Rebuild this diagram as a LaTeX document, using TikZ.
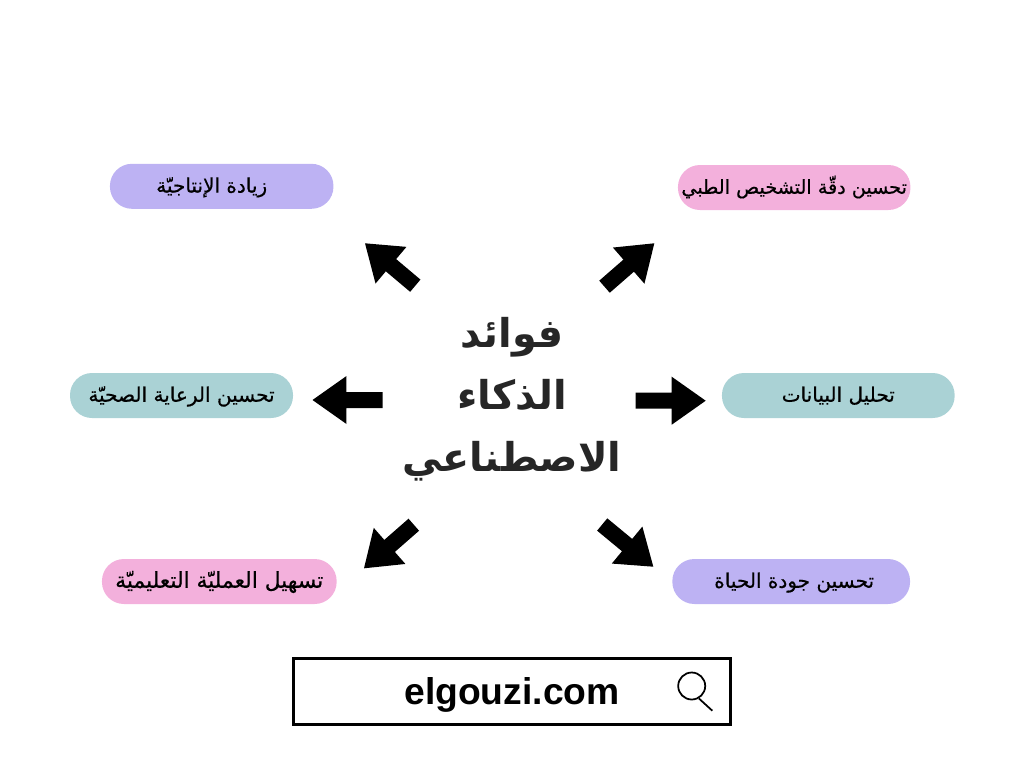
\documentclass[tikz,border=0pt]{standalone}
\usepackage{fontspec}
\usetikzlibrary{calc}
\TeXXeTstate=1
\setmainfont{Liberation Sans}
\newfontfamily\arabicfont[Script=Arabic]{DejaVu Sans}
\newfontfamily\pillfont[Script=Arabic,FakeBold=0.5]{DejaVu Sans}
\definecolor{pillpurple}{RGB}{189,178,243}
\definecolor{pillpink}{RGB}{243,176,220}
\definecolor{pillteal}{RGB}{170,210,213}
\def\artxt#1{\beginR #1\endR}
\def\pilltxt#1{\raisebox{-0.125cm}[0pt][0pt]{\artxt{#1}}}
\def\blockarrow(#1)(#2){\coordinate (ahead) at ($(#2)!0.68cm!(#1)$);
	\fill[black] ($(#1)!0.16cm!90:(#2)$) -- ($(ahead)!0.16cm!-90:(#1)$) -- ($(ahead)!0.48cm!-90:(#1)$) -- (#2) -- ($(ahead)!0.48cm!90:(#1)$) -- ($(ahead)!0.16cm!90:(#1)$) -- ($(#1)!0.16cm!-90:(#2)$) -- cycle;}
\tikzset{
	pill/.style={rounded corners=0.44cm, minimum height=0.9cm, minimum width=#1*0.02cm, inner sep=0pt, text=black, font=\pillfont\fontsize{11.4}{14}\selectfont},
	pill/.default=223,
}
\begin{document}
\begin{tikzpicture}[x=0.02cm,y=-0.02cm]
			%%%%% START %%%%%
			\useasboundingbox (0, 0) rectangle (1024, 768);
			
			\node[pill=223.5, fill=pillpurple] (productivity) at (221.7, 186.3) {\pilltxt{زيادة الإنتاجيّة}\hspace*{0.4cm}};
			\node[pill=232.5, fill=pillpink] (diagnosis) at (794.2, 187.5) {\fontsize{10.9}{14}\selectfont\pilltxt{تحسين دقّة التشخيص الطبي}};
			\node[pill=223, fill=pillteal] (healthcare) at (181.5, 395.5) {\pilltxt{تحسين الرعاية الصحيّة}};
			\node[pill=232.7, fill=pillteal] (analysis) at (838.3, 395.5) {\pilltxt{تحليل البيانات}};
			\node[pill=234.7, fill=pillpink] (education) at (219.3, 581.5) {\fontsize{12.4}{14}\selectfont\pilltxt{تسهيل العمليّة التعليميّة}};
			\node[pill=237.7, fill=pillpurple] (quality) at (791.2, 581.5) {\hspace*{0.12cm}\pilltxt{تحسين جودة الحياة}};
			
			\node[align=center, text=black!85, font=\arabicfont\bfseries\fontsize{22.6}{35.4}\selectfont] (title) at (512, 399) {\artxt{فوائد}\\\artxt{الذكاء}\\\artxt{الاصطناعي}};
			
			\coordinate (nwtail) at (415.3, 285.7);
			\coordinate (nwtip) at (365, 243.3);
			\coordinate (netail) at (604.5, 286.7);
			\coordinate (netip) at (654.3, 243.3);
			\coordinate (wtail) at (382.5, 400);
			\coordinate (wtip) at (312.5, 400);
			\coordinate (etail) at (635.5, 400.7);
			\coordinate (etip) at (705.7, 400.7);
			\coordinate (swtail) at (413.8, 524.7);
			\coordinate (swtip) at (364, 568.3);
			\coordinate (setail) at (602.2, 524.5);
			\coordinate (setip) at (653.3, 566.7);
			\blockarrow(nwtail)(nwtip)
			\blockarrow(netail)(netip)
			\blockarrow(wtail)(wtip)
			\blockarrow(etail)(etip)
			\blockarrow(swtail)(swtip)
			\blockarrow(setail)(setip)
			
			\node[draw, line width=0.06cm, minimum width=8.76cm, minimum height=1.32cm, inner sep=0pt, font=\bfseries\fontsize{21.2}{25}\selectfont] (searchbar) at (512, 691) {\raisebox{-0.27cm}[0pt][0pt]{elgouzi.com}};
			\node[draw, circle, line width=0.035cm, minimum size=0.54cm, inner sep=0pt] (lens) at (691.7, 686) {};
			\coordinate (handle) at (712.3, 710.7);
			\draw[line width=0.035cm] (lens.-60) -- (handle);
			%%%%% END %%%%%
		\end{tikzpicture}
\end{document}
